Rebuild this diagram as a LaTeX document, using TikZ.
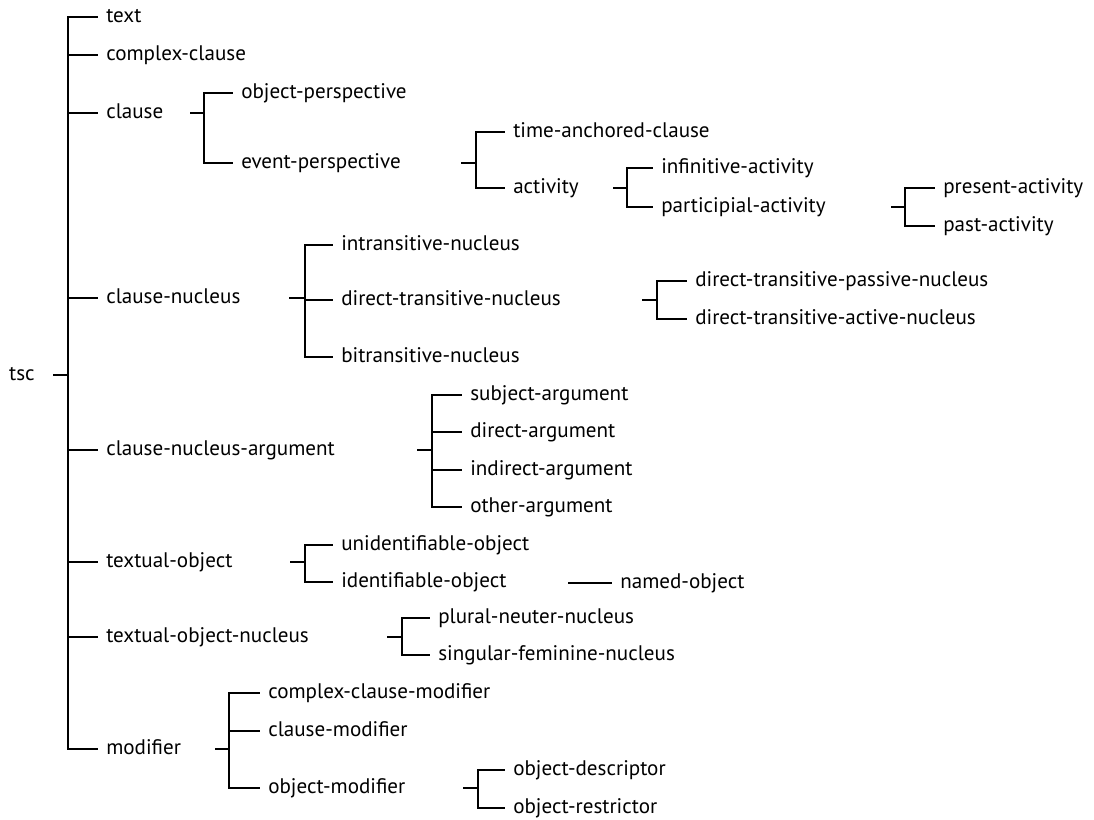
\documentclass[tikz,border=0pt]{standalone}
\usepackage{fontspec}
\setmainfont{PT Sans}
\tikzset{lbl/.style = {anchor = west, inner xsep = 4.5pt, inner ysep = 0, text height = 6.5pt, text depth = 0pt, font = \fontsize{12}{14}\selectfont}}
\tikzset{brk/.style = {line width = 0.9pt}}

\begin{document}
\begin{tikzpicture}[x = 0.02cm, y = -0.02cm]
    \useasboundingbox (0, 0) rectangle (1094, 819);
    \node [lbl, anchor = east] (tsc) at (43, 375) {tsc};
    \node [lbl] (text) at (98, 17) {text};
    \node [lbl] (cclause) at (98, 55) {complex-clause};
    \node [lbl] (clause) at (98, 113) {clause};
    \node [lbl] (cnuc) at (98, 298) {clause-nucleus};
    \node [lbl] (cnarg) at (98, 450) {clause-nucleus-argument};
    \node [lbl] (tobj) at (98, 562) {textual-object};
    \node [lbl] (tobjn) at (98, 637) {textual-object-nucleus};
    \node [lbl] (modif) at (98, 749) {modifier};
    \node [lbl] (oper) at (233, 93) {object-perspective};
    \node [lbl] (eper) at (233, 163) {event-perspective};
    \node [lbl] (tac) at (505, 132) {time-anchored-clause};
    \node [lbl] (activ) at (505, 188) {activity};
    \node [lbl] (infact) at (653, 168) {infinitive-activity};
    \node [lbl] (partact) at (653, 207) {participial-activity};
    \node [lbl] (presact) at (935, 188) {present-activity};
    \node [lbl] (pastact) at (935, 226) {past-activity};
    \node [lbl] (intr) at (333, 245) {intransitive-nucleus};
    \node [lbl] (dtn) at (333, 300) {direct-transitive-nucleus};
    \node [lbl] (bitr) at (333, 357) {bitransitive-nucleus};
    \node [lbl] (dtpn) at (687, 281) {direct-transitive-passive-nucleus};
    \node [lbl] (dtan) at (687, 319) {direct-transitive-active-nucleus};
    \node [lbl] (subjarg) at (462, 395) {subject-argument};
    \node [lbl] (dirarg) at (462, 432) {direct-argument};
    \node [lbl] (indarg) at (462, 470) {indirect-argument};
    \node [lbl] (otharg) at (462, 507) {other-argument};
    \node [lbl] (unid) at (333, 545) {unidentifiable-object};
    \node [lbl] (ident) at (333, 582) {identifiable-object};
    \node [lbl] (named) at (612, 583) {named-object};
    \node [lbl] (plneut) at (430, 618) {plural-neuter-nucleus};
    \node [lbl] (sgfem) at (430, 655) {singular-feminine-nucleus};
    \node [lbl] (ccmod) at (260, 693) {complex-clause-modifier};
    \node [lbl] (clmod) at (260, 731) {clause-modifier};
    \node [lbl] (objmod) at (260, 788) {object-modifier};
    \node [lbl] (objdesc) at (505, 770) {object-descriptor};
    \node [lbl] (objrestr) at (505, 808) {object-restrictor};
    \coordinate (tsc-s) at (53, 375);
    \coordinate (tsc-f) at (68, 375);
    \coordinate (clause-s) at (190, 113);
    \coordinate (clause-f) at (204, 113);
    \coordinate (eper-s) at (461, 163);
    \coordinate (eper-f) at (476, 163);
    \coordinate (activ-s) at (613, 188);
    \coordinate (activ-f) at (627, 188);
    \coordinate (partact-s) at (891, 207);
    \coordinate (partact-f) at (905, 207);
    \coordinate (cnuc-s) at (289, 298);
    \coordinate (cnuc-f) at (305, 298);
    \coordinate (dtn-s) at (642, 300);
    \coordinate (dtn-f) at (657, 300);
    \coordinate (cnarg-s) at (417, 450);
    \coordinate (cnarg-f) at (432, 450);
    \coordinate (tobj-s) at (290, 562);
    \coordinate (tobj-f) at (305, 562);
    \coordinate (ident-s) at (568, 583);
    \coordinate (tobjn-s) at (387, 637);
    \coordinate (tobjn-f) at (402, 637);
    \coordinate (modif-s) at (215, 749);
    \coordinate (modif-f) at (229, 749);
    \coordinate (objmod-s) at (463, 788);
    \coordinate (objmod-f) at (478, 788);
    \draw [brk] (tsc-s) -- (tsc-f) (tsc-f) |- (text.west) (tsc-f) |- (cclause.west) (tsc-f) |- (clause.west) (tsc-f) |- (cnuc.west) (tsc-f) |- (cnarg.west) (tsc-f) |- (tobj.west) (tsc-f) |- (tobjn.west) (tsc-f) |- (modif.west);
    \draw [brk] (clause-s) -- (clause-f) (clause-f) |- (oper.west) (clause-f) |- (eper.west);
    \draw [brk] (eper-s) -- (eper-f) (eper-f) |- (tac.west) (eper-f) |- (activ.west);
    \draw [brk] (activ-s) -- (activ-f) (activ-f) |- (infact.west) (activ-f) |- (partact.west);
    \draw [brk] (partact-s) -- (partact-f) (partact-f) |- (presact.west) (partact-f) |- (pastact.west);
    \draw [brk] (cnuc-s) -- (cnuc-f) (cnuc-f) |- (intr.west) (cnuc-f) |- (dtn.west) (cnuc-f) |- (bitr.west);
    \draw [brk] (dtn-s) -- (dtn-f) (dtn-f) |- (dtpn.west) (dtn-f) |- (dtan.west);
    \draw [brk] (cnarg-s) -- (cnarg-f) (cnarg-f) |- (subjarg.west) (cnarg-f) |- (dirarg.west) (cnarg-f) |- (indarg.west) (cnarg-f) |- (otharg.west);
    \draw [brk] (tobj-s) -- (tobj-f) (tobj-f) |- (unid.west) (tobj-f) |- (ident.west);
    \draw [brk] (ident-s) -- (named.west);
    \draw [brk] (tobjn-s) -- (tobjn-f) (tobjn-f) |- (plneut.west) (tobjn-f) |- (sgfem.west);
    \draw [brk] (modif-s) -- (modif-f) (modif-f) |- (ccmod.west) (modif-f) |- (clmod.west) (modif-f) |- (objmod.west);
    \draw [brk] (objmod-s) -- (objmod-f) (objmod-f) |- (objdesc.west) (objmod-f) |- (objrestr.west);
  \end{tikzpicture}
\end{document}
